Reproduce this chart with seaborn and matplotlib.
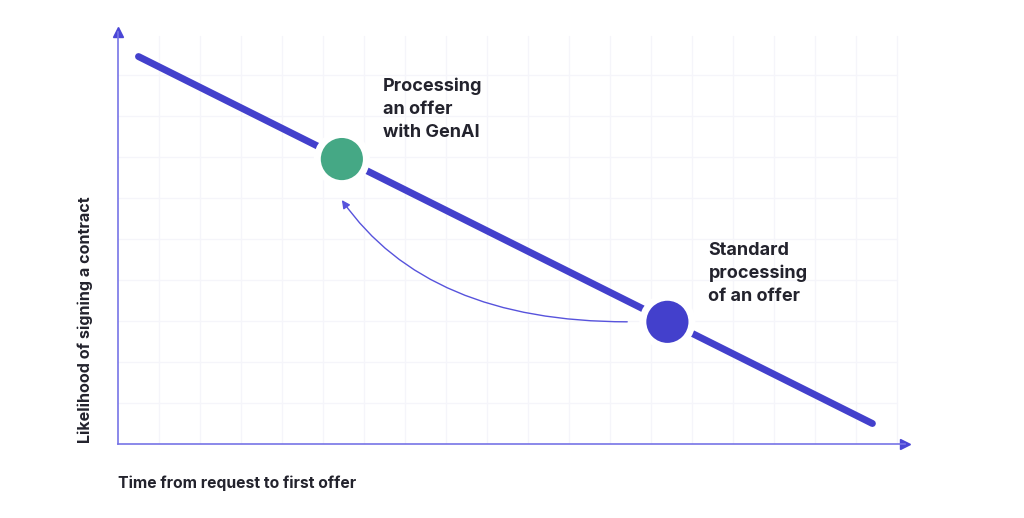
import matplotlib.pyplot as plt
import seaborn as sns
import pandas as pd

# STYLE
sns.set_theme(style="white")
plt.rcParams["font.family"] = ["Inter", "DejaVu Sans"]

# DATA (grid units)
trend_x = [0.5, 18.4]
trend_y = [9.45, 0.5]

point_labels = ["Processing\nan offer\nwith GenAI", "Standard\nprocessing\nof an offer"]
point_x = [5.46, 13.4]
point_y = [6.95, 2.98]
point_colors = ["#45a885", "#4340cc"]

x_label = "Time from request to first offer"
y_label = "Likelihood of signing a contract"

LINE_COLOR = "#4340cc"
AXIS_COLOR = "#7774e6"
TEXT_COLOR = "#23232d"
GRID_COLOR = "#f5f5fa"

fig = plt.figure(figsize=(10.24, 5.18), dpi=100)
ax = fig.add_axes([118 / 1024, 74 / 518, 787 / 1024, 412 / 518])
ax.set_xlim(0, 787 / 41)
ax.set_ylim(0, 412 / 41)

# light grid (stops just short of the arrow tips)
for gx in range(1, 20):
    ax.plot([gx, gx], [0, 9.95], color=GRID_COLOR, lw=1, zorder=0)
for gy in range(1, 10):
    ax.plot([0, 19.0], [gy, gy], color=GRID_COLOR, lw=1, zorder=0)

# trend line
df_line = pd.DataFrame({"x": trend_x, "y": trend_y})
sns.lineplot(data=df_line, x="x", y="y", color=LINE_COLOR, lw=5,
             solid_capstyle="round", ax=ax, zorder=2)

# points with white ring
df_pts = pd.DataFrame({"x": point_x, "y": point_y, "label": point_labels})
sns.scatterplot(data=df_pts, x="x", y="y", hue="label", palette=point_colors,
                s=1250, edgecolor="white", linewidth=5, legend=False,
                ax=ax, zorder=3)

# labels next to points
ax.text(point_x[0] + 1.0, point_y[0] + 1.98, point_labels[0], fontsize=13,
        fontweight="bold", color=TEXT_COLOR, va="top", ha="left",
        linespacing=1.45)
ax.text(point_x[1] + 1.0, point_y[1] + 1.95, point_labels[1], fontsize=13,
        fontweight="bold", color=TEXT_COLOR, va="top", ha="left",
        linespacing=1.45)

# curved arrow from standard to GenAI
ax.annotate("", xy=(point_x[0], point_y[0] - 1.0),
            xytext=(point_x[1] - 0.98, point_y[1]),
            arrowprops=dict(arrowstyle="-|>", color="#5753dc", lw=1,
                            mutation_scale=12, shrinkA=0, shrinkB=0,
                            connectionstyle="angle3,angleA=0,angleB=-55"),
            zorder=2)

# axes with arrows
for side in ["top", "right"]:
    ax.spines[side].set_visible(False)
for side in ["left", "bottom"]:
    ax.spines[side].set_color(AXIS_COLOR)
    ax.spines[side].set_linewidth(1.2)
ax.plot(1, 0, ">", color="#4a46d6", ms=7, transform=ax.transAxes, clip_on=False)
ax.plot(0, 1, "^", color="#4a46d6", ms=7, transform=ax.transAxes, clip_on=False)

ax.set_xticks([])
ax.set_yticks([])
ax.set_xlabel("")
ax.set_ylabel("")

fig.text(118 / 1024, 1 - 483 / 518, x_label, fontsize=11.3, fontweight="bold",
         color=TEXT_COLOR, ha="left", va="center")
fig.text(85 / 1024, 1 - 320 / 518, y_label, fontsize=11.6, fontweight="bold",
         color=TEXT_COLOR, ha="center", va="center", rotation=90)

fig.savefig("out.png", dpi=100, facecolor="white")
